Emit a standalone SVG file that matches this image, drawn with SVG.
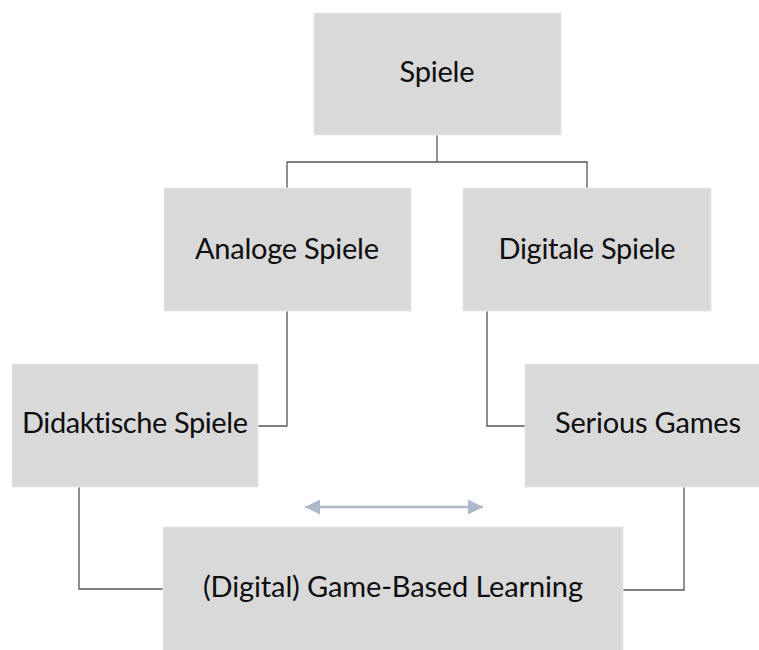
<svg xmlns="http://www.w3.org/2000/svg" width="759" height="650" viewBox="0 0 759 650">
  <style>
    .box { fill: #d9d9d9; stroke: #e8e8e8; stroke-width: 1; }
    .label { font-family: Lato, "Open Sans", "Liberation Sans", sans-serif; font-size: 29px; fill: #0d0d0d; text-anchor: middle; font-variant-ligatures: none; }
    .conn { fill: none; stroke: #555555; stroke-width: 1.3; }
    .rel { fill: none; stroke: #adb9cb; stroke-width: 2.4; }
  </style>
  <defs>
    <marker id="tip" viewBox="0 0 10 10" refX="10" refY="5" markerWidth="16" markerHeight="15" markerUnits="userSpaceOnUse" orient="auto-start-reverse">
      <path d="M0,0 L10,5 L0,10 z" fill="#adb9cb"/>
    </marker>
  </defs>
  <rect width="759" height="650" fill="#ffffff"/>

  <g id="connectors">
    <path class="conn" d="M437,135 V162 M287,188 V162 H587 V188"/>
    <path class="conn" d="M287,311 V426 H258"/>
    <path class="conn" d="M487,311 V426 H525"/>
    <path class="conn" d="M79,487 V589 H163"/>
    <path class="conn" d="M684,487 V590 H623"/>
    <path class="rel" d="M305,507 H483" marker-start="url(#tip)" marker-end="url(#tip)"/>
  </g>

  <g id="spiele">
    <rect class="box" x="314" y="13" width="247" height="122"/>
    <text class="label" x="437" y="82" textLength="75">Spiele</text>
  </g>
  <g id="analoge-spiele">
    <rect class="box" x="164" y="188" width="247" height="123"/>
    <text class="label" x="287" y="259" textLength="184">Analoge Spiele</text>
  </g>
  <g id="digitale-spiele">
    <rect class="box" x="463" y="188" width="248" height="123"/>
    <text class="label" x="587" y="259" textLength="177">Digitale Spiele</text>
  </g>
  <g id="didaktische-spiele">
    <rect class="box" x="12" y="364" width="246" height="123"/>
    <text class="label" x="135" y="433" textLength="226">Didaktische Spiele</text>
  </g>
  <g id="serious-games">
    <rect class="box" x="525" y="364" width="246" height="123"/>
    <text class="label" x="648" y="433" textLength="186">Serious Games</text>
  </g>
  <g id="game-based-learning">
    <rect class="box" x="163" y="527" width="460" height="130"/>
    <text class="label" x="393" y="597" textLength="380">(Digital) Game-Based Learning</text>
  </g>
</svg>
